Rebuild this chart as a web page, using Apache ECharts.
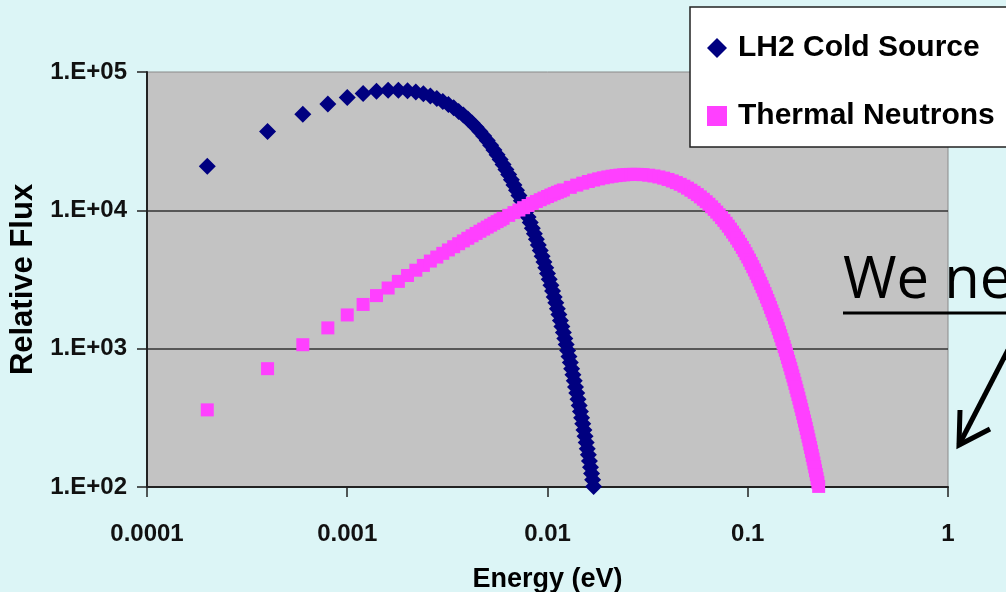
<!DOCTYPE html>
<html><head><meta charset="utf-8">
<script src="https://cdn.jsdelivr.net/npm/echarts@6/dist/echarts.min.js"></script>
<style>html,body{margin:0;padding:0;background:#dcf5f6;}#c{width:1006px;height:592px;}</style>
</head><body><div id="c"></div>
<script>
const seriesNames = ['LH2 Cold Source', 'Thermal Neutrons'];
const xTickLabels = ['0.0001', '0.001', '0.01', '0.1', '1'];
const yTickLabels = ['1.E+02', '1.E+03', '1.E+04', '1.E+05'];

const coldEnergy = [
0.0002,0.0004,0.0006,0.0008,0.001,0.0012,0.0014,0.0016,0.0018,0.002,
0.0022,0.0024,0.0026,0.0028,0.003,0.0032,0.0034,0.0036,0.0038,0.004,
0.0042,0.0044,0.0046,0.0048,0.005,0.0052,0.0054,0.0056,0.0058,0.006,
0.0062,0.0064,0.0066,0.0068,0.007,0.0072,0.0074,0.0076,0.0078,0.008,
0.0082,0.0084,0.0086,0.0088,0.009,0.0092,0.0094,0.0096,0.0098,0.01,
0.0102,0.0104,0.0106,0.0108,0.011,0.0112,0.0114,0.0116,0.0118,0.012,
0.0122,0.0124,0.0126,0.0128,0.013,0.0132,0.0134,0.0136,0.0138,0.014,
0.0142,0.0144,0.0146,0.0148,0.015,0.0152,0.0154,0.0156,0.0158,0.016,
0.0162,0.0164,0.0166,0.0168,0.017];
const coldFlux = [
20820,37070,49510,58760,65380,69850,72550,73810,73920,73110,
71600,69530,67060,64290,61320,58230,55080,51910,48790,45710,
42730,39850,37090,34450,31940,29580,27340,25240,23270,21440,
19720,18120,16630,15260,13980,12800,11710,10710,9785,8934,
8152,7435,6776,6172,5620,5114,4652,4229,3843,3491,
3170,2878,2611,2368,2147,1946,1764,1597,1447,1310,
1185,1073,970,877,793,717,648,586,529,478,
431,389,351,317,286,258,233,210,189,171,
154,139,125,113,101];

const thermalEnergy = [
0.0002,0.0004,0.0006,0.0008,0.001,0.0012,0.0014,0.0016,0.0018,0.002,
0.0022,0.0024,0.0026,0.0028,0.003,0.0032,0.0034,0.0036,0.0038,0.004,
0.0042,0.0044,0.0046,0.0048,0.005,0.0052,0.0054,0.0056,0.0058,0.006,
0.0064,0.0068,0.0072,0.0076,0.008,0.0084,0.0088,0.0092,0.0096,0.01,
0.0104,0.0108,0.0112,0.0116,0.012,
0.013,0.014,0.015,0.016,0.017,0.018,0.019,0.02,0.021,0.022,
0.023,0.024,0.025,0.026,0.027,0.028,0.029,0.03,
0.032,0.034,0.036,0.038,0.04,0.042,0.044,0.046,0.048,0.05,
0.052,0.054,0.056,0.058,0.06,0.062,0.064,0.066,0.068,0.07,
0.072,0.074,0.076,0.078,0.08,0.082,0.084,0.086,0.088,0.09,
0.092,0.094,0.096,0.098,0.1,0.102,0.104,0.106,0.108,0.11,
0.112,0.114,0.116,0.118,0.12,0.122,0.124,0.126,0.128,0.13,
0.132,0.134,0.136,0.138,0.14,0.142,0.144,0.146,0.148,0.15,
0.152,0.154,0.156,0.158,0.16,0.162,0.164,0.166,0.168,0.17,
0.172,0.174,0.176,0.178,0.18,0.182,0.184,0.186,0.188,0.19,
0.192,0.194,0.196,0.198,0.2,0.202,0.204,0.206,0.208,0.21,
0.212,0.214,0.216,0.218,0.22,0.222,0.224,0.226];
const thermalFlux = [
361,717,1068,1413,1753,2088,2419,2744,3064,3380,
3691,3997,4298,4595,4887,5174,5457,5736,6010,6281,
6546,6808,7065,7318,7567,7812,8053,8291,8523,8753,
9200,9632,10050,10453,10843,11219,11582,11931,12268,12593,
12905,13206,13496,13773,14040,
14661,15219,15717,16161,16551,16891,17186,17439,17649,17822,
17961,18064,18139,18183,18200,18193,18162,18110,
17948,17719,17430,17094,16719,16310,15876,15421,14951,14469,
13981,13490,12997,12507,12022,11542,11069,10606,10153,9710,
9280,8861,8456,8063,7684,7318,6965,6625,6299,5985,
5684,5396,5120,4856,4604,4364,4133,3914,3706,3507,
3317,3137,2966,2803,2648,2502,2362,2230,2105,1986,
1874,1768,1667,1571,1481,1396,1315,1239,1167,1099,
1035,974,917,862,811,763,718,675,635,597,
561,527,496,466,438,411,386,363,341,320,
300,282,265,248,233,219,205,193,181,169,
159,149,140,131,123,115,108,101];

const pairs = (xs, ys) => xs.map((x, i) => [x, ys[i]]);
const FONT = '"Liberation Sans", Arial, sans-serif';

const chart = echarts.init(document.getElementById('c'), null, {renderer: 'canvas'});
chart.setOption({
  backgroundColor: '#dcf5f6',
  animation: false,
  grid: {
    left: 147, top: 72, right: 58, bottom: 105,
    outerBoundsMode: 'none', containLabel: false,
    show: true, backgroundColor: '#c3c3c3', borderColor: '#8a8a8a', borderWidth: 1
  },
  legend: {
    orient: 'vertical', left: 690, top: 7,
    backgroundColor: '#ffffff', borderColor: '#222', borderWidth: 1.5,
    padding: [26, 40, 16, 17],
    itemWidth: 20, itemHeight: 20, itemGap: 38,
    selectedMode: false,
    textStyle: {fontFamily: FONT, fontSize: 30, fontWeight: 'bold', color: '#000', padding: [0, 0, 0, 6]},
    data: [{name: seriesNames[0], icon: 'diamond'}, {name: seriesNames[1], icon: 'rect'}]
  },
  xAxis: {
    type: 'log', logBase: 10, min: 0.0001, max: 1,
    name: 'Energy (eV)', nameLocation: 'middle', nameGap: 79,
    nameTextStyle: {fontFamily: FONT, fontSize: 27, fontWeight: 'bold', color: '#000'},
    axisLine: {show: true, onZero: false, lineStyle: {color: '#222', width: 2}},
    axisTick: {show: true, inside: false, length: 10, lineStyle: {color: '#222', width: 1.5}},
    minorTick: {show: false},
    splitLine: {show: false},
    axisLabel: {
      margin: 35, fontFamily: FONT, fontSize: 24, fontWeight: 'bold', color: '#111',
      formatter: v => xTickLabels[Math.round(Math.log10(v)) + 4]
    }
  },
  yAxis: {
    type: 'log', logBase: 10, min: 100, max: 100000,
    name: 'Relative Flux', nameLocation: 'middle', nameGap: 108,
    nameTextStyle: {fontFamily: FONT, fontSize: 31, fontWeight: 'bold', color: '#000'},
    axisLine: {show: true, onZero: false, lineStyle: {color: '#222', width: 2}},
    axisTick: {show: true, inside: false, length: 10, lineStyle: {color: '#222', width: 1.5}},
    minorTick: {show: false},
    splitLine: {show: true, showMinLine: false, showMaxLine: false, lineStyle: {color: '#333', width: 1.5}},
    axisLabel: {
      margin: 20, fontFamily: FONT, fontSize: 24, fontWeight: 'bold', color: '#111',
      formatter: v => yTickLabels[Math.round(Math.log10(v)) - 2]
    }
  },
  series: [
    {
      name: seriesNames[0], type: 'scatter', symbol: 'diamond', symbolSize: 17,
      itemStyle: {color: '#000080', opacity: 1}, data: pairs(coldEnergy, coldFlux), z: 2
    },
    {
      name: seriesNames[1], type: 'scatter', symbol: 'rect', symbolSize: 13,
      itemStyle: {color: '#ff40ff', opacity: 1}, data: pairs(thermalEnergy, thermalFlux), z: 3
    }
  ],
  graphic: [
    {type: 'text', left: 843, top: 252, z: 100,
     style: {text: 'We ne', font: '58px "Open Sans", sans-serif', fill: '#000'}},
    {type: 'line', z: 100, shape: {x1: 843, y1: 313, x2: 1010, y2: 313},
     style: {stroke: '#000', lineWidth: 3}},
    {type: 'polyline', z: 100, shape: {points: [[1008, 350], [959, 445]]},
     style: {stroke: '#000', lineWidth: 5, fill: null}},
    {type: 'polyline', z: 100, shape: {points: [[960, 410], [959, 445], [990, 429]]},
     style: {stroke: '#000', lineWidth: 5, fill: null, lineJoin: 'miter'}}
  ]
});
</script>
</body></html>
